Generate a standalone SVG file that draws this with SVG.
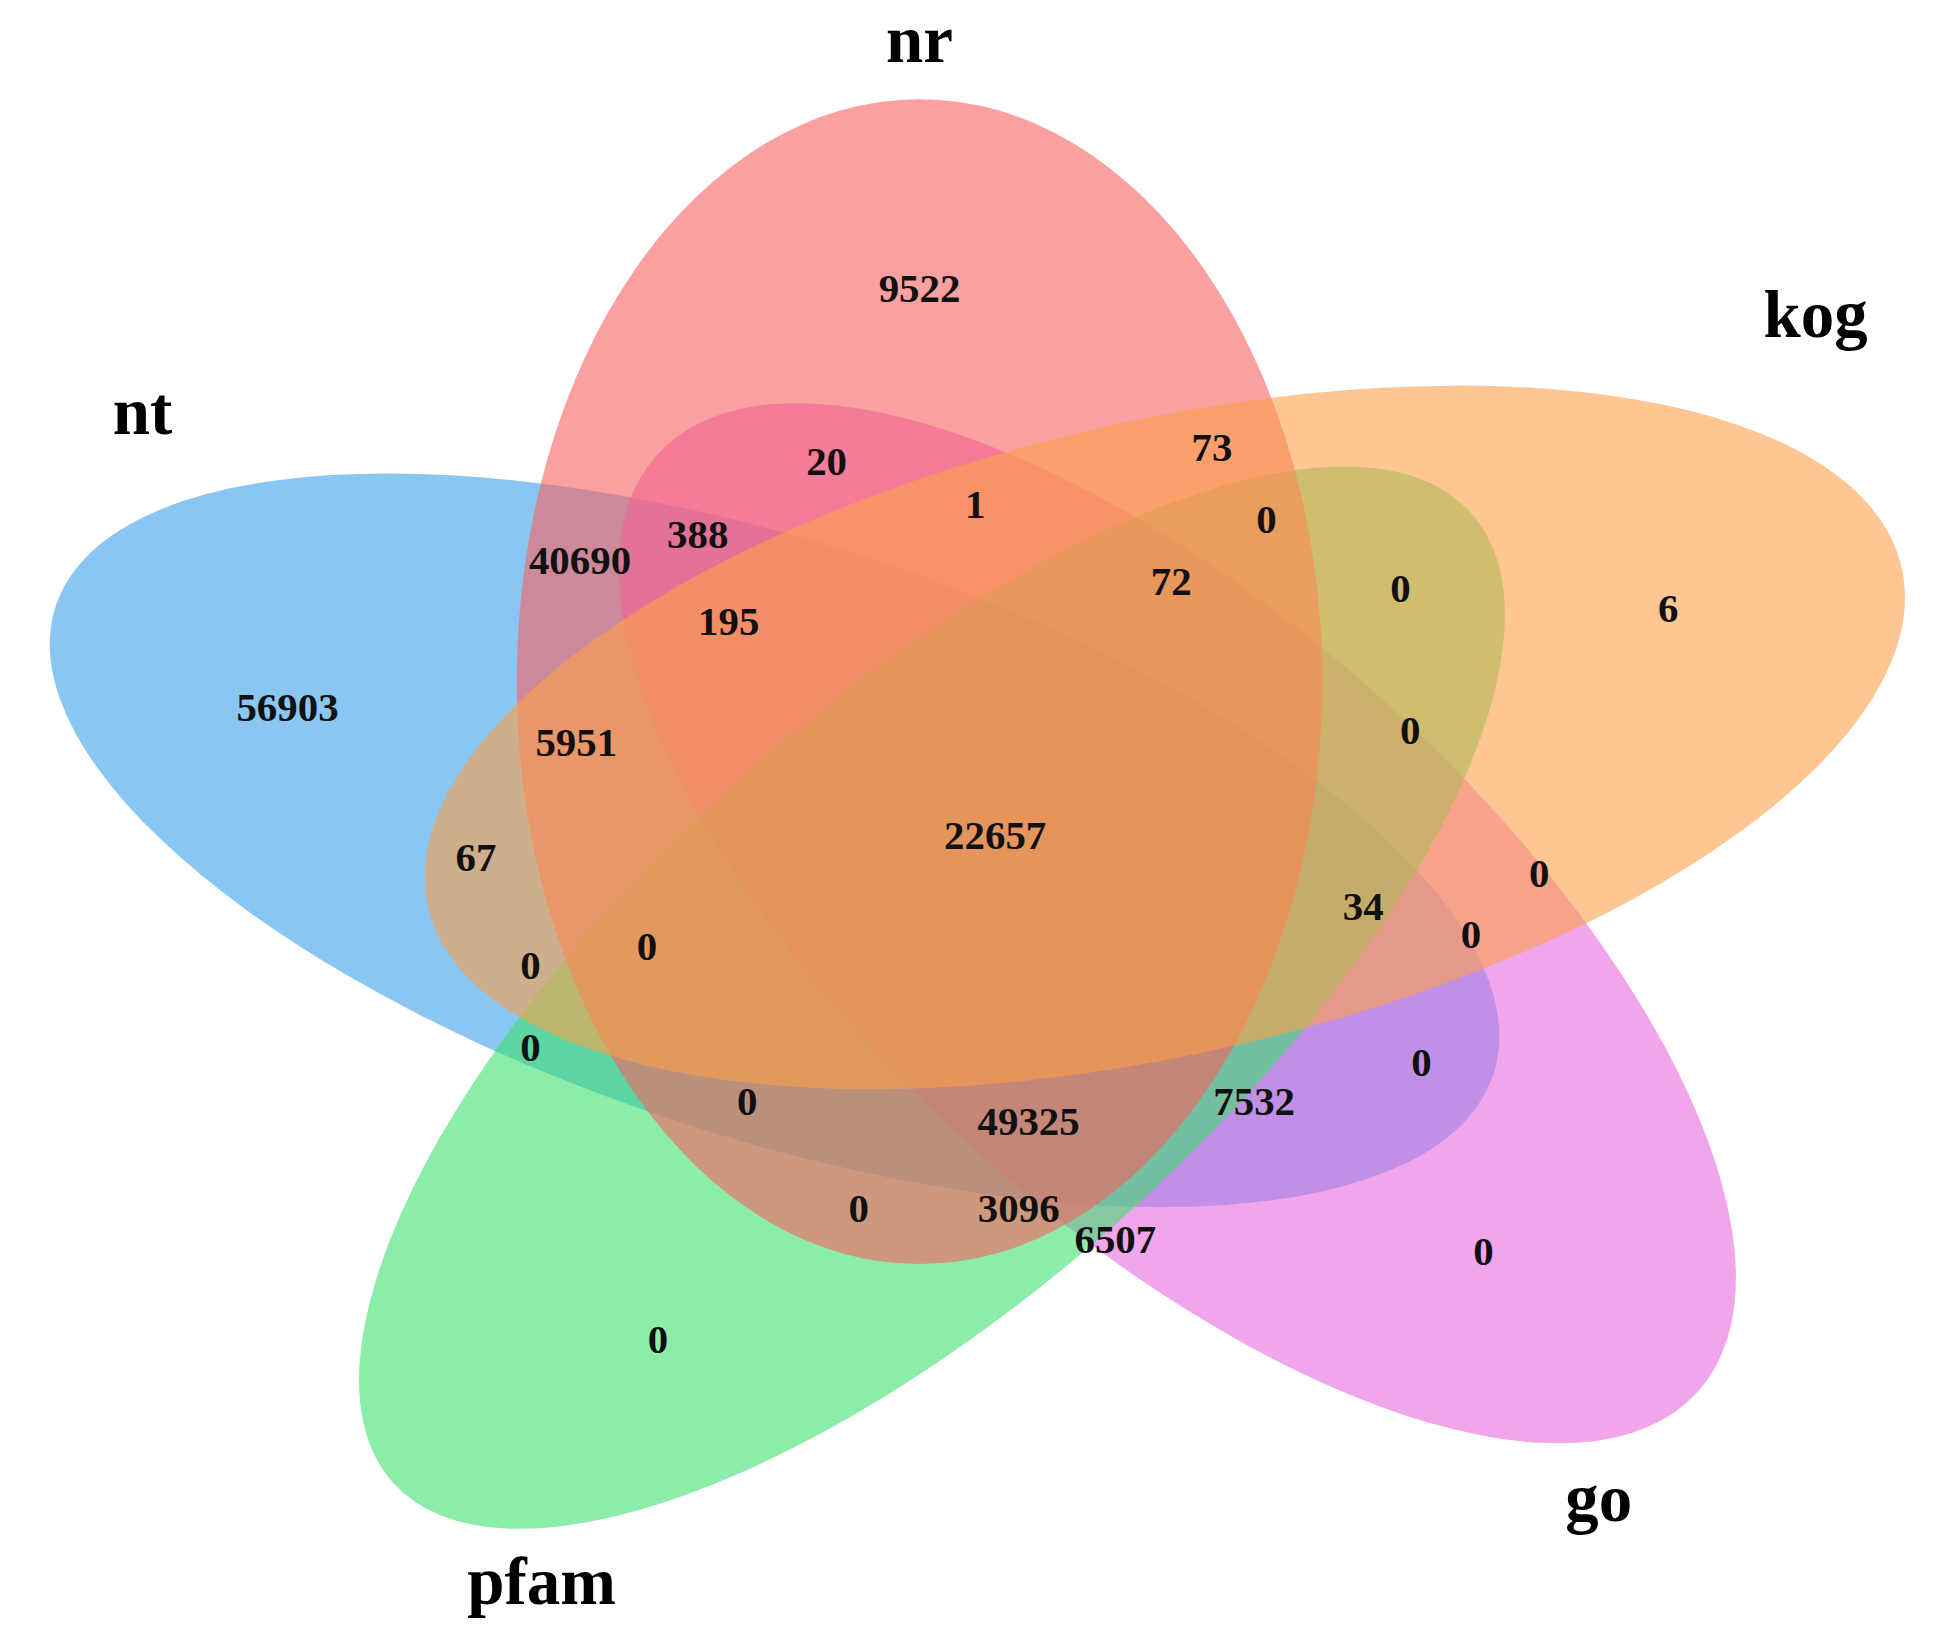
<svg xmlns="http://www.w3.org/2000/svg" width="1937" height="1632" viewBox="0 0 1937 1632">
<style>
.s{opacity:0.6}
.t{font-family:"Liberation Serif",serif;font-weight:bold;font-size:54px;fill:#000;text-anchor:middle}
.n{font-family:"Liberation Serif",serif;font-weight:bold;font-size:33px;fill:#111;text-anchor:middle}
</style>
<rect width="1937" height="1632" fill="#fff"/>
<g transform="scale(1.2393)">
<g id="nt"><ellipse class="s" cx="625" cy="678" rx="610" ry="240" transform="rotate(18 625 678)" fill="#3aa0e8"/></g>
<g id="go"><ellipse class="s" cx="950" cy="745" rx="565" ry="245" transform="rotate(42 950 745)" fill="#e86ae0"/></g>
<g id="pfam"><ellipse class="s" cx="752" cy="805" rx="585" ry="235" transform="rotate(-42 752 805)" fill="#40e070"/></g>
<g id="nr"><ellipse class="s" cx="742" cy="550" rx="325" ry="470" fill="#f86060"/></g>
<g id="kog"><ellipse class="s" cx="940" cy="595" rx="610" ry="255" transform="rotate(-13 940 595)" fill="#fca04a"/></g>
<g id="labels">
<text class="t" x="742" y="50">nr</text>
<text class="t" x="1465" y="272">kog</text>
<text class="t" x="115" y="350">nt</text>
<text class="t" x="1290" y="1227">go</text>
<text class="t" x="437" y="1294">pfam</text>
</g>
<g id="numbers">
<text class="n" x="742" y="244">9522</text>
<text class="n" x="667" y="383">20</text>
<text class="n" x="978" y="372">73</text>
<text class="n" x="787" y="418">1</text>
<text class="n" x="1022" y="430">0</text>
<text class="n" x="563" y="442">388</text>
<text class="n" x="468" y="463">40690</text>
<text class="n" x="945" y="480">72</text>
<text class="n" x="1130" y="486">0</text>
<text class="n" x="1346" y="502">6</text>
<text class="n" x="588" y="512">195</text>
<text class="n" x="232" y="582">56903</text>
<text class="n" x="465" y="610">5951</text>
<text class="n" x="1138" y="600">0</text>
<text class="n" x="803" y="685">22657</text>
<text class="n" x="384" y="703">67</text>
<text class="n" x="1242" y="716">0</text>
<text class="n" x="1100" y="742">34</text>
<text class="n" x="1187" y="765">0</text>
<text class="n" x="522" y="775">0</text>
<text class="n" x="428" y="790">0</text>
<text class="n" x="428" y="856">0</text>
<text class="n" x="1147" y="868">0</text>
<text class="n" x="603" y="900">0</text>
<text class="n" x="1012" y="900">7532</text>
<text class="n" x="830" y="916">49325</text>
<text class="n" x="693" y="986">0</text>
<text class="n" x="822" y="986">3096</text>
<text class="n" x="900" y="1011">6507</text>
<text class="n" x="1197" y="1021">0</text>
<text class="n" x="531" y="1092">0</text>
</g>
</g>
</svg>
